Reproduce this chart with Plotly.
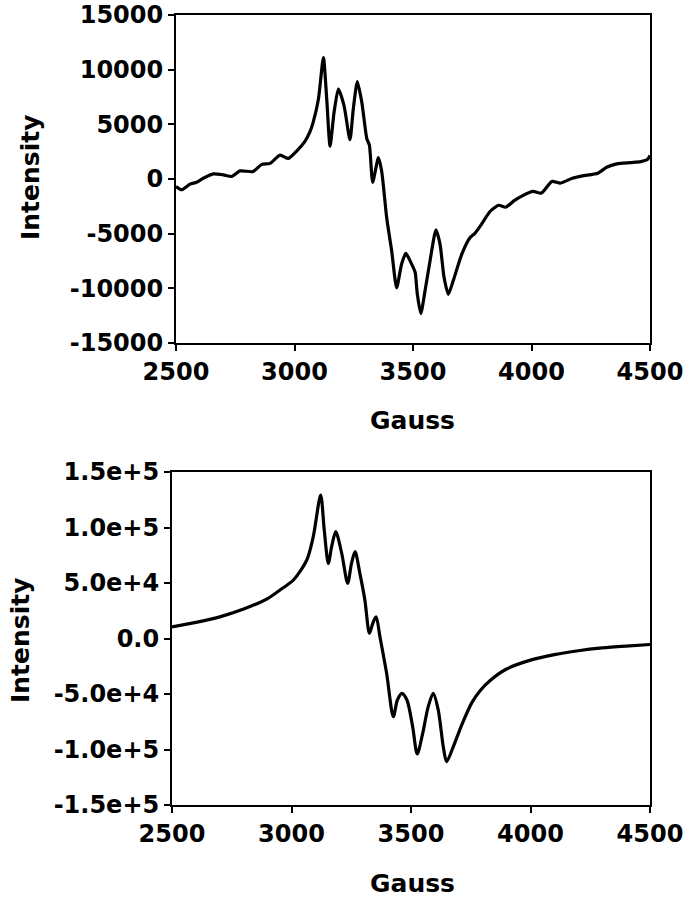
import plotly.graph_objects as go

# top panel: measured spectrum (noisy)
gauss_top = [2500, 2524, 2559, 2587, 2615, 2657, 2700, 2735, 2770, 2825, 2862, 2897,
             2939, 2974, 3009, 3044, 3065, 3079, 3101, 3122, 3136, 3150, 3167, 3185,
             3209, 3234, 3248, 3265, 3284, 3305, 3316, 3330, 3354, 3368, 3389, 3410,
             3431, 3452, 3470, 3494, 3509, 3518, 3533, 3551, 3572, 3597, 3614, 3631,
             3649, 3670, 3706, 3741, 3760, 3790, 3826, 3862, 3891, 3927, 3963, 4006,
             4042, 4086, 4122, 4172, 4215, 4280, 4317, 4360, 4418, 4461, 4490, 4500]
intensity_top = [-680, -980, -470, -290, 70, 470, 380, 230, 740, 680, 1340, 1430,
                 2190, 1880, 2550, 3450, 4300, 5200, 7320, 11100, 7320, 3000, 6100, 8230,
                 6720, 3600, 6400, 8900, 7020, 3700, 3100, -300, 1950, 680, -3550, -6570,
                 -9950, -7770, -6810, -7770, -8530, -10490, -12300, -10190, -7470, -4650, -5960, -8990,
                 -10550, -9290, -6870, -5360, -5000, -4100, -2950, -2400, -2580, -1980, -1520, -1130,
                 -1290, -230, -380, 70, 290, 530, 1070, 1380, 1500, 1590, 1800, 2150]

# bottom panel: simulated spectrum (smooth)
gauss_bot = [2500, 2600, 2700, 2800, 2900, 2952, 3008, 3064, 3091, 3122, 3137, 3154,
             3168, 3185, 3210, 3235, 3251, 3266, 3286, 3307, 3326, 3340, 3354, 3370,
             3398, 3426, 3443, 3462, 3483, 3507, 3526, 3549, 3572, 3593, 3614, 3635,
             3649, 3677, 3712, 3754, 3789, 3830, 3900, 4000, 4100, 4200, 4300, 4400, 4500]
intensity_bot = [10500, 14500, 19500, 26500, 36000, 43700, 52700, 70700, 91700, 129300, 97800, 67700,
                 82700, 96200, 76800, 49700, 67700, 78200, 58700, 34700, 4700, 13700, 19600, 1600,
                 -31400, -70500, -55400, -49400, -55400, -79500, -104000, -85400, -61400, -49400, -64400, -97500,
                 -111000, -97500, -78000, -58000, -47000, -38000, -27500, -19500, -14500, -11000, -8500, -6800, -5400]

x_ticks = [2500, 3000, 3500, 4000, 4500]
top_ticks = [15000, 10000, 5000, 0, -5000, -10000, -15000]
top_labels = ["15000", "10000", "5000", "0", "-5000", "-10000", "-15000"]
bot_ticks = [150000, 100000, 50000, 0, -50000, -100000, -150000]
bot_labels = ["1.5e+5", "1.0e+5", "5.0e+4", "0.0", "-5.0e+4", "-1.0e+5", "-1.5e+5"]

W, H = 684, 907
FONT = "DejaVu Sans"

fig = go.Figure()
fig.add_trace(go.Scatter(x=gauss_top, y=intensity_top, mode="lines",
                         line=dict(color="black", width=3.2, shape="spline", smoothing=0.6),
                         xaxis="x", yaxis="y"))
fig.add_trace(go.Scatter(x=gauss_bot, y=intensity_bot, mode="lines",
                         line=dict(color="black", width=3.2, shape="spline", smoothing=0.8),
                         xaxis="x2", yaxis="y2"))

axis_common = dict(showline=True, linecolor="black", linewidth=2, mirror=True,
                   ticks="outside", ticklen=6, tickwidth=2, tickcolor="black",
                   showgrid=False, zeroline=False, automargin=False,
                   ticklabeloverflow="allow",
                   tickfont=dict(family=FONT, size=24, color="black", weight="bold"))

fig.update_layout(
    width=W, height=H, showlegend=False,
    paper_bgcolor="white", plot_bgcolor="white",
    margin=dict(l=0, r=0, t=0, b=0),
    xaxis=dict(domain=[176 / W, 650 / W], range=[2500, 4500], tickvals=x_ticks,
               anchor="y", **axis_common),
    yaxis=dict(domain=[1 - 343 / H, 1 - 15 / H], range=[-15000, 15000],
               tickvals=top_ticks, ticktext=top_labels, anchor="x", **axis_common),
    xaxis2=dict(domain=[172 / W, 650 / W], range=[2500, 4500], tickvals=x_ticks,
                anchor="y2", **axis_common),
    yaxis2=dict(domain=[1 - 805 / H, 1 - 472 / H], range=[-150000, 150000],
                tickvals=bot_ticks, ticktext=bot_labels, anchor="x2", **axis_common),
)

title_font = dict(family=FONT, size=25, color="black", weight="bold")
for txt, x, y, ang in [("Intensity", 30, 177, -90), ("Gauss", 412, 420, 0),
                       ("Intensity", 20, 640, -90), ("Gauss", 412, 883, 0)]:
    fig.add_annotation(text=txt, x=x / W, y=1 - y / H, xref="paper", yref="paper",
                       showarrow=False, textangle=ang, font=title_font,
                       xanchor="center", yanchor="middle")

# drop the browser's default page margin so the figure sits at the window corner
fig.write_html("out.html", config={"displayModeBar": False},
               post_script="document.body.style.margin='0';")
